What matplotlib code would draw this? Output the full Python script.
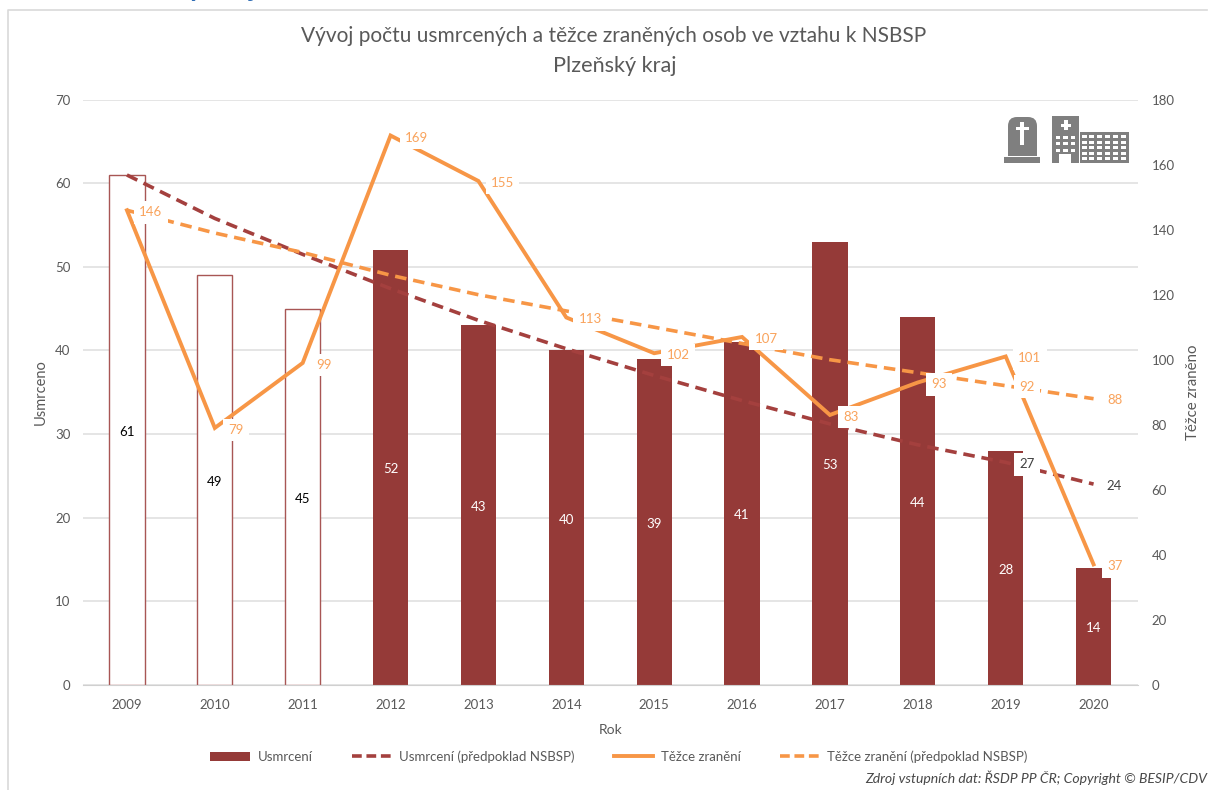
import matplotlib
matplotlib.use("Agg")
import matplotlib.pyplot as plt
from matplotlib.patches import Rectangle, FancyBboxPatch, Patch
from matplotlib.lines import Line2D
from matplotlib.transforms import IdentityTransform

plt.rcParams['font.family'] = ['Lato', 'DejaVu Sans']

years = [2009, 2010, 2011, 2012, 2013, 2014, 2015, 2016, 2017, 2018, 2019, 2020]
deaths = [61, 49, 45, 52, 43, 40, 39, 41, 53, 44, 28, 14]
deaths_target = [61, 55.8, 51.5, 47.4, 43.6, 40.2, 37.0, 34.0, 31.2, 28.7, 26.6, 24]
injured = [146, 79, 99, 169, 155, 113, 102, 107, 83, 93, 101, 37]
injured_target = [146, 139, 133, 126, 120, 115, 110, 105, 100, 96, 92, 88]
hollow_years = [2009, 2010, 2011]

BAR = '#953A38'
OUTLINE = '#A85654'
TREND = '#A4403E'
ORANGE = '#F79646'
ORANGE_TXT = '#F9A35C'
GRID = '#E0E0E0'
TXT = '#595959'
W, H = 1208, 790
DASH = (0, (3.2, 1.9))

fig = plt.figure(figsize=(W / 100, H / 100), dpi=100, facecolor='white')
ax = fig.add_axes([83 / W, 1 - 684.6 / H, (1137.5 - 83) / W, (684.6 - 99.8) / H])
ax2 = ax.twinx()

x = list(range(len(years)))
ax.set_xlim(-0.5, len(years) - 0.5)
ax.set_ylim(0, 70)
ax2.set_ylim(0, 180)
ax.set_yticks(range(0, 71, 10))
ax2.set_yticks(range(0, 181, 20))
ax.set_xticks(x)
ax.set_xticklabels(years)
ax.set_axisbelow(True)
ax.grid(axis='y', color=GRID, lw=1.2)
ax.grid(axis='x', visible=False)
for a in (ax, ax2):
    for s in a.spines.values():
        s.set_visible(False)
    a.tick_params(length=0, labelsize=9.5, labelcolor=TXT)
ax.spines['bottom'].set_visible(True)
ax.spines['bottom'].set_color('#D0D0D0')
ax.tick_params(axis='y', pad=9)
ax.tick_params(axis='x', pad=10.5)
ax2.tick_params(axis='y', pad=10)
ax.set_xlabel('Rok', fontsize=10, color=TXT, labelpad=9)
ax.set_ylabel('Usmrceno', fontsize=10.5, color=TXT, labelpad=5)
ax2.set_ylabel('Těžce zraněno', fontsize=10.8, color=TXT, labelpad=8)
for lab in ax.get_yticklabels() + ax2.get_yticklabels():
    lab.set_verticalalignment('center_baseline')

ax2.set_zorder(ax.get_zorder() + 1)
ax2.patch.set_visible(False)

for i, (yr, d) in enumerate(zip(years, deaths)):
    hollow = yr in hollow_years
    ax.bar(i, d, width=0.4, color='white' if hollow else BAR, edgecolor=OUTLINE, lw=1.0 if hollow else 0)
    ax.annotate(str(d), (i, d / 2), xytext=(0, -2), textcoords='offset pixels', ha='center', va='center',
                fontsize=9.5, color='black' if hollow else 'white', zorder=5)

s = 180 / 70
ax2.plot(x, [v * s for v in deaths_target], color=TREND, lw=2.6, ls=DASH, zorder=3)
ax2.plot(x, injured_target, color=ORANGE, lw=2.6, ls=DASH, zorder=3)
ax2.plot(x, injured, color=ORANGE, lw=2.8, solid_joinstyle='miter', zorder=4)

box = dict(facecolor='white', edgecolor='none', pad=3.8)
label_dx = {79: 21, 99: 21, 83: 21, 93: 21, 37: 21, 169: 26}
for i, v in enumerate(injured):
    ax2.annotate(str(v), (i, v), xytext=(label_dx.get(v, 24), -2), textcoords='offset pixels',
                 ha='center', va='center', fontsize=9.5, color=ORANGE_TXT, bbox=box, zorder=6)
for i in (10, 11):
    ax2.annotate(str(round(injured_target[i])), (i, injured_target[i]), xytext=(21, -1),
                 textcoords='offset pixels', ha='center', va='center', fontsize=9.5,
                 color=ORANGE_TXT, bbox=box, zorder=6)
for i, lab in ((10, '27'), (11, '24')):
    ax2.annotate(lab, (i, deaths_target[i] * s), xytext=(21, -2), textcoords='offset pixels',
                 ha='center', va='center', fontsize=9.5, color='#404040', bbox=box, zorder=6)

fig.text(614 / W, 1 - 36 / H, 'Vývoj počtu usmrcených a těžce zraněných osob ve vztahu k NSBSP',
         ha='center', va='center', fontsize=15.05, color=TXT)
fig.text(614.5 / W, 1 - 66 / H, 'Plzeňský kraj', ha='center', va='center', fontsize=15.6, color=TXT)
fig.text(175 / W, 1 - (-12) / H, 'Plzeňský kraj', ha='center', va='center', fontsize=20,
         color='#2F6DB5', weight='bold')
fig.text(1207 / W, 1 - 778 / H, 'Zdroj vstupních dat: ŘSDP PP ČR; Copyright © BESIP/CDV',
         ha='right', va='center', fontsize=10.1, style='italic', color='#484848')

# outer chart frame
fig.add_artist(Line2D([8 / W, 8 / W, 1 - 1 / W], [0, 1 - 10 / H, 1 - 10 / H], color='#D9D9D9', lw=1.2))

# icons, placed in image pixels
IC = '#7F7F7F'
ID = IdentityTransform()
def rect(x0, y0, x1, y1, c=IC):
    fig.add_artist(Rectangle((x0, H - y1), x1 - x0, y1 - y0, facecolor=c, edgecolor='none', transform=ID))
# tombstone
rect(1004, 157, 1040, 163)
fig.add_artist(FancyBboxPatch((1008, H - 156), 29, 39, boxstyle='round,pad=0,rounding_size=9',
                              facecolor=IC, edgecolor='none', transform=ID))
rect(1008, 140, 1037, 156)
rect(1020, 122, 1024, 145, 'white')
rect(1016, 126.5, 1029, 130, 'white')
# hospital
rect(1052, 116, 1079, 163)
rect(1080, 132, 1129, 163)
rect(1063.5, 120, 1067.5, 130, 'white')
rect(1060.5, 123.5, 1070.5, 127, 'white')
for r in range(3):
    for c in range(3):
        rect(1055.5 + c * 7.5, 136 + r * 6.3, 1060 + c * 7.5, 139 + r * 6.3, 'white')
rect(1059, 154, 1071, 163, 'white')
for r in range(5):
    for c in range(6):
        rect(1081.5 + c * 7.9, 135 + r * 5.6, 1086.5 + c * 7.9, 138 + r * 5.6, 'white')

handles = [Patch(facecolor=BAR),
           Line2D([], [], color=TREND, lw=2.6, ls=(0, (2.7, 1.3))),
           Line2D([], [], color=ORANGE, lw=2.8),
           Line2D([], [], color=ORANGE, lw=2.6, ls=(0, (2.7, 1.3)))]
labels = ['Usmrcení', 'Usmrcení (předpoklad NSBSP)', 'Těžce zranění', 'Těžce zranění (předpoklad NSBSP)']
fig.legend(handles, labels, loc='center', bbox_to_anchor=(619 / W, 1 - 756.5 / H), ncol=4, frameon=False,
           fontsize=9.5, labelcolor=TXT, handlelength=3.0, handletextpad=0.6, columnspacing=2.95,
           handleheight=0.7)

fig.savefig('out.png', dpi=100)
